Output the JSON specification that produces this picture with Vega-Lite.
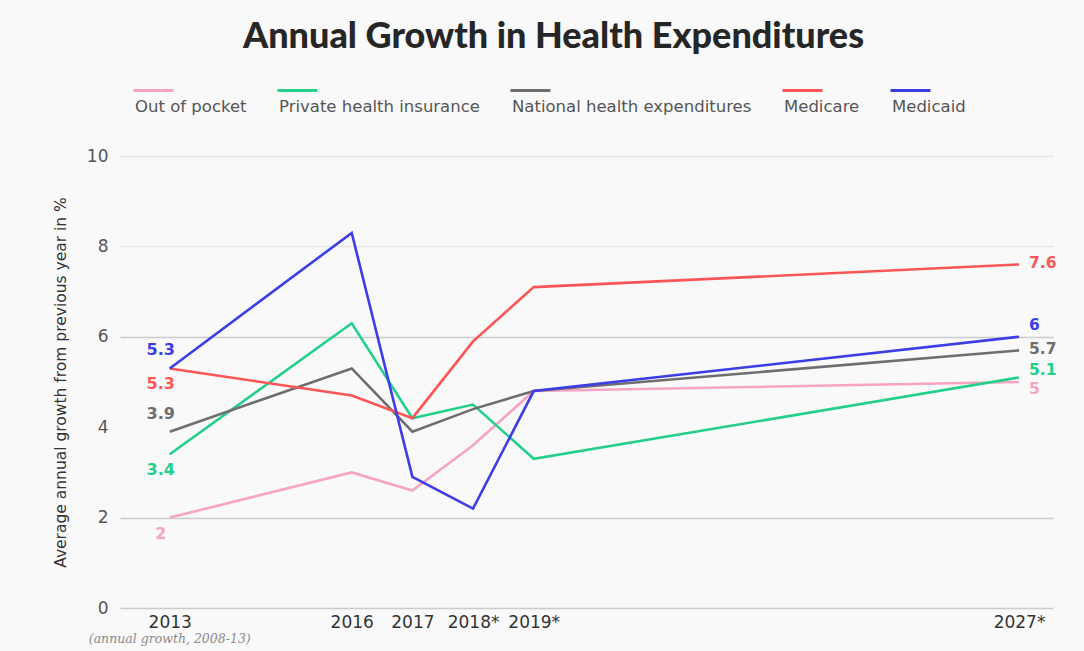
{
  "$schema": "https://vega.github.io/schema/vega-lite/v6.json",
  "width": 933,
  "height": 452,
  "autosize": {"type": "none"},
  "padding": {"left": 120, "top": 156, "right": 31, "bottom": 43},
  "background": "#f9f9f9",
  "title": {
    "text": "Annual Growth in Health Expenditures",
    "font": "Lato",
    "fontSize": 36,
    "fontWeight": 900,
    "color": "#262626",
    "anchor": "middle",
    "dx": -33,
    "offset": 29
  },
  "config": {
    "view": {"stroke": null},
    "font": "DejaVu Sans",
    "text": {"font": "DejaVu Sans"}
  },
  "datasets": {
    "series": [
      {"series": "Out of pocket", "year": 2013, "value": 2.0},
      {"series": "Out of pocket", "year": 2016, "value": 3.0},
      {"series": "Out of pocket", "year": 2017, "value": 2.6},
      {"series": "Out of pocket", "year": 2018, "value": 3.6},
      {"series": "Out of pocket", "year": 2019, "value": 4.8},
      {"series": "Out of pocket", "year": 2027, "value": 5.0},
      {"series": "Private health insurance", "year": 2013, "value": 3.4},
      {"series": "Private health insurance", "year": 2016, "value": 6.3},
      {"series": "Private health insurance", "year": 2017, "value": 4.2},
      {"series": "Private health insurance", "year": 2018, "value": 4.5},
      {"series": "Private health insurance", "year": 2019, "value": 3.3},
      {"series": "Private health insurance", "year": 2027, "value": 5.1},
      {"series": "National health expenditures", "year": 2013, "value": 3.9},
      {"series": "National health expenditures", "year": 2016, "value": 5.3},
      {"series": "National health expenditures", "year": 2017, "value": 3.9},
      {"series": "National health expenditures", "year": 2018, "value": 4.4},
      {"series": "National health expenditures", "year": 2019, "value": 4.8},
      {"series": "National health expenditures", "year": 2027, "value": 5.7},
      {"series": "Medicare", "year": 2013, "value": 5.3},
      {"series": "Medicare", "year": 2016, "value": 4.7},
      {"series": "Medicare", "year": 2017, "value": 4.2},
      {"series": "Medicare", "year": 2018, "value": 5.9},
      {"series": "Medicare", "year": 2019, "value": 7.1},
      {"series": "Medicare", "year": 2027, "value": 7.6},
      {"series": "Medicaid", "year": 2013, "value": 5.3},
      {"series": "Medicaid", "year": 2016, "value": 8.3},
      {"series": "Medicaid", "year": 2017, "value": 2.9},
      {"series": "Medicaid", "year": 2018, "value": 2.2},
      {"series": "Medicaid", "year": 2019, "value": 4.8},
      {"series": "Medicaid", "year": 2027, "value": 6.0}
    ],
    "labels": [
      {"series": "Medicaid", "year": 2013, "value": 5.3, "placement": "above"},
      {"series": "Medicare", "year": 2013, "value": 5.3, "placement": "below"},
      {"series": "National health expenditures", "year": 2013, "value": 3.9, "placement": "above"},
      {"series": "Private health insurance", "year": 2013, "value": 3.4, "placement": "below"},
      {"series": "Out of pocket", "year": 2013, "value": 2.0, "placement": "below"},
      {"series": "Medicare", "year": 2027, "value": 7.6, "placement": "level"},
      {"series": "Medicaid", "year": 2027, "value": 6.0, "placement": "above"},
      {"series": "National health expenditures", "year": 2027, "value": 5.7, "placement": "level"},
      {"series": "Private health insurance", "year": 2027, "value": 5.1, "placement": "slightly above"},
      {"series": "Out of pocket", "year": 2027, "value": 5.0, "placement": "slightly below"}
    ]
  },
  "layer": [
    {
      "data": {"name": "series"},
      "mark": {"type": "line", "strokeWidth": 2.6},
      "encoding": {
        "x": {
          "field": "year",
          "type": "quantitative",
          "scale": {"domain": [2012.18, 2027.56], "nice": false, "zero": false},
          "axis": {
            "values": [2013, 2016, 2017, 2018, 2019, 2027],
            "labelExpr": "datum.value >= 2018 ? datum.value + '*' : '' + datum.value",
            "title": null,
            "grid": false,
            "domain": false,
            "ticks": false,
            "labelFont": "DejaVu Sans",
            "labelFontSize": 17,
            "labelColor": "#333333",
            "labelPadding": 6,
            "labelFlush": false,
            "labelOverlap": false
          }
        },
        "y": {
          "field": "value",
          "type": "quantitative",
          "scale": {"domain": [0, 10], "nice": false},
          "axis": {
            "values": [0, 2, 4, 6, 8, 10],
            "title": "Average annual growth from previous year in %",
            "titleFont": "DejaVu Sans",
            "titleFontSize": 15.5,
            "titleFontWeight": "normal",
            "titleColor": "#333333",
            "titlePadding": 18,
            "labelFont": "DejaVu Sans",
            "labelFontSize": 17,
            "labelColor": "#555555",
            "labelPadding": 12,
            "domain": false,
            "ticks": false,
            "gridColor": {"condition": {"test": "datum.value == 6 || datum.value == 2 || datum.value == 0", "value": "#cccccc"}, "value": "#e8e8e8"},
            "gridOpacity": {"condition": {"test": "datum.value == 4", "value": 0}, "value": 1},
            "gridWidth": 1.5
          }
        },
        "color": {
          "field": "series",
          "type": "nominal",
          "scale": {
            "domain": ["Out of pocket", "Private health insurance", "National health expenditures", "Medicare", "Medicaid"],
            "range": ["#f7a3c4", "#22d08a", "#6e6e6e", "#fa5656", "#3d3de8"]
          },
          "legend": {
            "orient": "none",
            "legendX": 12,
            "legendY": -71,
            "direction": "horizontal",
            "title": null,
            "symbolType": "M-1,-0.8L1,-0.8",
            "symbolSize": 1600,
            "symbolStrokeWidth": 3,
            "labelOffset": -40,
            "labelFont": "DejaVu Sans",
            "labelFontSize": 16.5,
            "labelColor": "#555555",
            "columnPadding": 24,
            "labelLimit": 400
          }
        }
      }
    },
    {
      "data": {"name": "labels"},
      "transform": [{"filter": "datum.year == 2013 && datum.placement == 'above'"}],
      "mark": {"type": "text", "align": "center", "baseline": "middle", "dx": -9, "dy": -18, "fontSize": 16, "fontWeight": "bold"},
      "encoding": {
        "x": {"field": "year", "type": "quantitative"},
        "y": {"field": "value", "type": "quantitative"},
        "text": {"field": "value", "type": "quantitative"},
        "color": {"field": "series", "type": "nominal"}
      }
    },
    {
      "data": {"name": "labels"},
      "transform": [{"filter": "datum.year == 2013 && datum.placement == 'below'"}],
      "mark": {"type": "text", "align": "center", "baseline": "middle", "dx": -9, "dy": 16, "fontSize": 16, "fontWeight": "bold"},
      "encoding": {
        "x": {"field": "year", "type": "quantitative"},
        "y": {"field": "value", "type": "quantitative"},
        "text": {"field": "value", "type": "quantitative"},
        "color": {"field": "series", "type": "nominal"}
      }
    },
    {
      "data": {"name": "labels"},
      "transform": [{"filter": "datum.year == 2027 && datum.placement == 'level'"}],
      "mark": {"type": "text", "align": "left", "baseline": "middle", "dx": 10, "dy": -1, "fontSize": 15.5, "fontWeight": "bold"},
      "encoding": {
        "x": {"field": "year", "type": "quantitative"},
        "y": {"field": "value", "type": "quantitative"},
        "text": {"field": "value", "type": "quantitative"},
        "color": {"field": "series", "type": "nominal"}
      }
    },
    {
      "data": {"name": "labels"},
      "transform": [{"filter": "datum.year == 2027 && datum.placement == 'above'"}],
      "mark": {"type": "text", "align": "left", "baseline": "middle", "dx": 10, "dy": -12, "fontSize": 15.5, "fontWeight": "bold"},
      "encoding": {
        "x": {"field": "year", "type": "quantitative"},
        "y": {"field": "value", "type": "quantitative"},
        "text": {"field": "value", "type": "quantitative"},
        "color": {"field": "series", "type": "nominal"}
      }
    },
    {
      "data": {"name": "labels"},
      "transform": [{"filter": "datum.year == 2027 && datum.placement == 'slightly above'"}],
      "mark": {"type": "text", "align": "left", "baseline": "middle", "dx": 10, "dy": -7, "fontSize": 15.5, "fontWeight": "bold"},
      "encoding": {
        "x": {"field": "year", "type": "quantitative"},
        "y": {"field": "value", "type": "quantitative"},
        "text": {"field": "value", "type": "quantitative"},
        "color": {"field": "series", "type": "nominal"}
      }
    },
    {
      "data": {"name": "labels"},
      "transform": [{"filter": "datum.year == 2027 && datum.placement == 'slightly below'"}],
      "mark": {"type": "text", "align": "left", "baseline": "middle", "dx": 10, "dy": 7, "fontSize": 15.5, "fontWeight": "bold"},
      "encoding": {
        "x": {"field": "year", "type": "quantitative"},
        "y": {"field": "value", "type": "quantitative"},
        "text": {"field": "value", "type": "quantitative"},
        "color": {"field": "series", "type": "nominal"}
      }
    },
    {
      "data": {"values": [{"year": 2013, "note": "(annual growth, 2008-13)"}]},
      "mark": {"type": "text", "align": "center", "baseline": "middle", "dy": 31, "font": "DejaVu Serif", "fontStyle": "italic", "fontSize": 12.5, "color": "#8a8a8a"},
      "encoding": {
        "x": {"field": "year", "type": "quantitative"},
        "y": {"datum": 0},
        "text": {"field": "note"}
      }
    }
  ]
}
